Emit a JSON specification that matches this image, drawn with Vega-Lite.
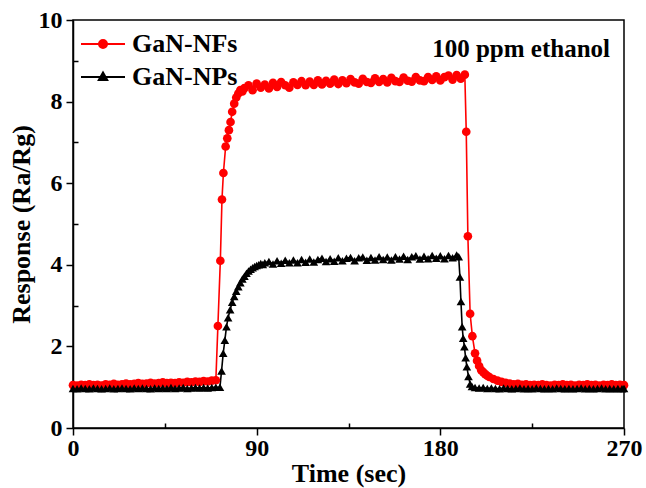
{
  "$schema": "https://vega.github.io/schema/vega-lite/v6.json",
  "width": 551,
  "height": 408,
  "autosize": "none",
  "padding": {"left": 73, "top": 20, "right": 22, "bottom": 60},
  "background": "white",
  "config": {
    "view": {"stroke": "black", "strokeWidth": 1.5},
    "font": "Liberation Serif",
    "axis": {
      "domainColor": "black", "domainWidth": 1.5, "tickColor": "black", "tickWidth": 1.5,
      "labelFont": "Liberation Serif", "labelFontWeight": "bold", "labelFontSize": 24, "labelColor": "black",
      "titleFont": "Liberation Serif", "titleFontWeight": "bold", "titleFontSize": 26, "titleColor": "black",
      "grid": false, "labelFlush": false
    }
  },
  "title": {
    "text": "100 ppm ethanol", "anchor": "end", "frame": "group", "orient": "top",
    "offset": -54, "baseline": "top", "dx": -14,
    "font": "Liberation Serif", "fontWeight": "bold", "fontSize": 25, "color": "black"
  },
  "data": {
    "values": [
      {"s":"GaN-NFs","t":0,"v":1.05},{"s":"GaN-NFs","t":2,"v":1.04},{"s":"GaN-NFs","t":4,"v":1.06},{"s":"GaN-NFs","t":6,"v":1.05},
      {"s":"GaN-NFs","t":8,"v":1.07},{"s":"GaN-NFs","t":10,"v":1.05},{"s":"GaN-NFs","t":12,"v":1.06},{"s":"GaN-NFs","t":14,"v":1.04},
      {"s":"GaN-NFs","t":16,"v":1.07},{"s":"GaN-NFs","t":18,"v":1.06},{"s":"GaN-NFs","t":20,"v":1.08},{"s":"GaN-NFs","t":22,"v":1.06},
      {"s":"GaN-NFs","t":24,"v":1.07},{"s":"GaN-NFs","t":26,"v":1.09},{"s":"GaN-NFs","t":28,"v":1.07},{"s":"GaN-NFs","t":30,"v":1.08},
      {"s":"GaN-NFs","t":32,"v":1.1},{"s":"GaN-NFs","t":34,"v":1.08},{"s":"GaN-NFs","t":36,"v":1.09},{"s":"GaN-NFs","t":38,"v":1.11},
      {"s":"GaN-NFs","t":40,"v":1.09},{"s":"GaN-NFs","t":42,"v":1.1},{"s":"GaN-NFs","t":44,"v":1.12},{"s":"GaN-NFs","t":46,"v":1.1},
      {"s":"GaN-NFs","t":48,"v":1.11},{"s":"GaN-NFs","t":50,"v":1.1},{"s":"GaN-NFs","t":52,"v":1.12},{"s":"GaN-NFs","t":54,"v":1.11},
      {"s":"GaN-NFs","t":56,"v":1.13},{"s":"GaN-NFs","t":58,"v":1.12},{"s":"GaN-NFs","t":60,"v":1.14},{"s":"GaN-NFs","t":62,"v":1.13},
      {"s":"GaN-NFs","t":64,"v":1.15},{"s":"GaN-NFs","t":66,"v":1.14},{"s":"GaN-NFs","t":68,"v":1.16},{"s":"GaN-NFs","t":70,"v":1.17},
      {"s":"GaN-NFs","t":71,"v":2.5},{"s":"GaN-NFs","t":72.2,"v":4.1},{"s":"GaN-NFs","t":73,"v":5.6},{"s":"GaN-NFs","t":73.7,"v":6.25},
      {"s":"GaN-NFs","t":74.8,"v":6.9},{"s":"GaN-NFs","t":75.6,"v":7.1},{"s":"GaN-NFs","t":76.4,"v":7.3},{"s":"GaN-NFs","t":77.2,"v":7.5},
      {"s":"GaN-NFs","t":78,"v":7.75},{"s":"GaN-NFs","t":79,"v":7.95},{"s":"GaN-NFs","t":80,"v":8.1},{"s":"GaN-NFs","t":81,"v":8.2},
      {"s":"GaN-NFs","t":82,"v":8.28},{"s":"GaN-NFs","t":83,"v":8.25},
      {"s":"GaN-NFs","t":84,"v":8.33},{"s":"GaN-NFs","t":86,"v":8.4},{"s":"GaN-NFs","t":88,"v":8.28},{"s":"GaN-NFs","t":90,"v":8.44},
      {"s":"GaN-NFs","t":92,"v":8.34},{"s":"GaN-NFs","t":94,"v":8.42},{"s":"GaN-NFs","t":96,"v":8.32},{"s":"GaN-NFs","t":98,"v":8.46},
      {"s":"GaN-NFs","t":100,"v":8.36},{"s":"GaN-NFs","t":102,"v":8.48},{"s":"GaN-NFs","t":104,"v":8.4},{"s":"GaN-NFs","t":106,"v":8.34},
      {"s":"GaN-NFs","t":108,"v":8.47},{"s":"GaN-NFs","t":110,"v":8.41},{"s":"GaN-NFs","t":112,"v":8.5},{"s":"GaN-NFs","t":114,"v":8.4},
      {"s":"GaN-NFs","t":116,"v":8.49},{"s":"GaN-NFs","t":118,"v":8.41},{"s":"GaN-NFs","t":120,"v":8.52},{"s":"GaN-NFs","t":122,"v":8.42},
      {"s":"GaN-NFs","t":124,"v":8.51},{"s":"GaN-NFs","t":126,"v":8.44},{"s":"GaN-NFs","t":128,"v":8.54},{"s":"GaN-NFs","t":130,"v":8.43},
      {"s":"GaN-NFs","t":132,"v":8.52},{"s":"GaN-NFs","t":134,"v":8.45},{"s":"GaN-NFs","t":136,"v":8.55},{"s":"GaN-NFs","t":138,"v":8.47},
      {"s":"GaN-NFs","t":140,"v":8.44},{"s":"GaN-NFs","t":142,"v":8.56},{"s":"GaN-NFs","t":144,"v":8.48},{"s":"GaN-NFs","t":146,"v":8.46},
      {"s":"GaN-NFs","t":148,"v":8.57},{"s":"GaN-NFs","t":150,"v":8.48},{"s":"GaN-NFs","t":152,"v":8.55},{"s":"GaN-NFs","t":154,"v":8.47},
      {"s":"GaN-NFs","t":156,"v":8.58},{"s":"GaN-NFs","t":158,"v":8.5},{"s":"GaN-NFs","t":160,"v":8.48},{"s":"GaN-NFs","t":162,"v":8.59},
      {"s":"GaN-NFs","t":164,"v":8.51},{"s":"GaN-NFs","t":166,"v":8.49},{"s":"GaN-NFs","t":168,"v":8.6},{"s":"GaN-NFs","t":170,"v":8.52},
      {"s":"GaN-NFs","t":172,"v":8.5},{"s":"GaN-NFs","t":174,"v":8.6},{"s":"GaN-NFs","t":176,"v":8.53},{"s":"GaN-NFs","t":178,"v":8.62},
      {"s":"GaN-NFs","t":180,"v":8.52},{"s":"GaN-NFs","t":182,"v":8.6},{"s":"GaN-NFs","t":184,"v":8.64},{"s":"GaN-NFs","t":186,"v":8.54},
      {"s":"GaN-NFs","t":188,"v":8.65},{"s":"GaN-NFs","t":190,"v":8.56},{"s":"GaN-NFs","t":192,"v":8.66},
      {"s":"GaN-NFs","t":192.7,"v":7.26},{"s":"GaN-NFs","t":193.5,"v":4.7},{"s":"GaN-NFs","t":194.6,"v":2.8},{"s":"GaN-NFs","t":195.7,"v":2.25},
      {"s":"GaN-NFs","t":197,"v":1.83},{"s":"GaN-NFs","t":198,"v":1.65},{"s":"GaN-NFs","t":199,"v":1.52},{"s":"GaN-NFs","t":200,"v":1.42},
      {"s":"GaN-NFs","t":201,"v":1.37},{"s":"GaN-NFs","t":202,"v":1.32},{"s":"GaN-NFs","t":203,"v":1.28},{"s":"GaN-NFs","t":204,"v":1.25},
      {"s":"GaN-NFs","t":206,"v":1.2},{"s":"GaN-NFs","t":208,"v":1.16},
      {"s":"GaN-NFs","t":210,"v":1.13},{"s":"GaN-NFs","t":212,"v":1.11},{"s":"GaN-NFs","t":214,"v":1.09},{"s":"GaN-NFs","t":216,"v":1.07},
      {"s":"GaN-NFs","t":218,"v":1.08},{"s":"GaN-NFs","t":220,"v":1.06},{"s":"GaN-NFs","t":222,"v":1.07},{"s":"GaN-NFs","t":224,"v":1.05},
      {"s":"GaN-NFs","t":226,"v":1.06},{"s":"GaN-NFs","t":228,"v":1.05},{"s":"GaN-NFs","t":230,"v":1.07},{"s":"GaN-NFs","t":232,"v":1.05},
      {"s":"GaN-NFs","t":234,"v":1.04},{"s":"GaN-NFs","t":236,"v":1.06},{"s":"GaN-NFs","t":238,"v":1.05},{"s":"GaN-NFs","t":240,"v":1.07},
      {"s":"GaN-NFs","t":242,"v":1.05},{"s":"GaN-NFs","t":244,"v":1.06},{"s":"GaN-NFs","t":246,"v":1.04},{"s":"GaN-NFs","t":248,"v":1.06},
      {"s":"GaN-NFs","t":250,"v":1.05},{"s":"GaN-NFs","t":252,"v":1.07},{"s":"GaN-NFs","t":254,"v":1.05},{"s":"GaN-NFs","t":256,"v":1.06},
      {"s":"GaN-NFs","t":258,"v":1.04},{"s":"GaN-NFs","t":260,"v":1.06},{"s":"GaN-NFs","t":262,"v":1.05},{"s":"GaN-NFs","t":264,"v":1.07},
      {"s":"GaN-NFs","t":266,"v":1.05},{"s":"GaN-NFs","t":268,"v":1.06},{"s":"GaN-NFs","t":270,"v":1.05},

      {"s":"GaN-NPs","t":0,"v":0.97},{"s":"GaN-NPs","t":2,"v":0.96},{"s":"GaN-NPs","t":4,"v":0.98},{"s":"GaN-NPs","t":6,"v":0.97},
      {"s":"GaN-NPs","t":8,"v":0.96},{"s":"GaN-NPs","t":10,"v":0.98},{"s":"GaN-NPs","t":12,"v":0.97},{"s":"GaN-NPs","t":14,"v":0.96},
      {"s":"GaN-NPs","t":16,"v":0.97},{"s":"GaN-NPs","t":18,"v":0.98},{"s":"GaN-NPs","t":20,"v":0.96},{"s":"GaN-NPs","t":22,"v":0.97},
      {"s":"GaN-NPs","t":24,"v":0.98},{"s":"GaN-NPs","t":26,"v":0.97},{"s":"GaN-NPs","t":28,"v":0.96},{"s":"GaN-NPs","t":30,"v":0.98},
      {"s":"GaN-NPs","t":32,"v":0.97},{"s":"GaN-NPs","t":34,"v":0.98},{"s":"GaN-NPs","t":36,"v":0.97},{"s":"GaN-NPs","t":38,"v":0.96},
      {"s":"GaN-NPs","t":40,"v":0.98},{"s":"GaN-NPs","t":42,"v":0.97},{"s":"GaN-NPs","t":44,"v":0.98},{"s":"GaN-NPs","t":46,"v":0.97},
      {"s":"GaN-NPs","t":48,"v":0.99},{"s":"GaN-NPs","t":50,"v":0.97},{"s":"GaN-NPs","t":52,"v":0.98},{"s":"GaN-NPs","t":54,"v":0.99},
      {"s":"GaN-NPs","t":56,"v":0.97},{"s":"GaN-NPs","t":58,"v":0.98},{"s":"GaN-NPs","t":60,"v":0.99},{"s":"GaN-NPs","t":62,"v":0.98},
      {"s":"GaN-NPs","t":64,"v":0.99},{"s":"GaN-NPs","t":66,"v":0.98},{"s":"GaN-NPs","t":68,"v":0.99},{"s":"GaN-NPs","t":70,"v":1.0},
      {"s":"GaN-NPs","t":72,"v":1.0},{"s":"GaN-NPs","t":72.8,"v":1.4},{"s":"GaN-NPs","t":73.6,"v":1.83},{"s":"GaN-NPs","t":74.4,"v":2.15},
      {"s":"GaN-NPs","t":75.2,"v":2.48},{"s":"GaN-NPs","t":76,"v":2.7},{"s":"GaN-NPs","t":77,"v":2.9},{"s":"GaN-NPs","t":78,"v":3.08},
      {"s":"GaN-NPs","t":79,"v":3.22},{"s":"GaN-NPs","t":80,"v":3.35},{"s":"GaN-NPs","t":81,"v":3.46},{"s":"GaN-NPs","t":82,"v":3.56},
      {"s":"GaN-NPs","t":83,"v":3.65},{"s":"GaN-NPs","t":84,"v":3.72},{"s":"GaN-NPs","t":85,"v":3.79},{"s":"GaN-NPs","t":86,"v":3.85},
      {"s":"GaN-NPs","t":87,"v":3.89},{"s":"GaN-NPs","t":88,"v":3.93},{"s":"GaN-NPs","t":89,"v":3.96},{"s":"GaN-NPs","t":90,"v":3.98},
      {"s":"GaN-NPs","t":91,"v":4.0},{"s":"GaN-NPs","t":92,"v":4.03},{"s":"GaN-NPs","t":93,"v":4.01},{"s":"GaN-NPs","t":94,"v":4.05},
      {"s":"GaN-NPs","t":96,"v":4.08},{"s":"GaN-NPs","t":98,"v":4.02},
      {"s":"GaN-NPs","t":100,"v":4.1},{"s":"GaN-NPs","t":102,"v":4.04},{"s":"GaN-NPs","t":104,"v":4.11},{"s":"GaN-NPs","t":106,"v":4.05},
      {"s":"GaN-NPs","t":108,"v":4.12},{"s":"GaN-NPs","t":110,"v":4.05},{"s":"GaN-NPs","t":112,"v":4.13},{"s":"GaN-NPs","t":114,"v":4.06},
      {"s":"GaN-NPs","t":116,"v":4.14},{"s":"GaN-NPs","t":118,"v":4.07},{"s":"GaN-NPs","t":120,"v":4.13},{"s":"GaN-NPs","t":122,"v":4.16},
      {"s":"GaN-NPs","t":124,"v":4.08},{"s":"GaN-NPs","t":126,"v":4.15},{"s":"GaN-NPs","t":128,"v":4.09},{"s":"GaN-NPs","t":130,"v":4.17},
      {"s":"GaN-NPs","t":132,"v":4.1},{"s":"GaN-NPs","t":134,"v":4.16},{"s":"GaN-NPs","t":136,"v":4.18},{"s":"GaN-NPs","t":138,"v":4.1},
      {"s":"GaN-NPs","t":140,"v":4.17},{"s":"GaN-NPs","t":142,"v":4.19},{"s":"GaN-NPs","t":144,"v":4.11},{"s":"GaN-NPs","t":146,"v":4.18},
      {"s":"GaN-NPs","t":148,"v":4.12},{"s":"GaN-NPs","t":150,"v":4.2},{"s":"GaN-NPs","t":152,"v":4.13},{"s":"GaN-NPs","t":154,"v":4.19},
      {"s":"GaN-NPs","t":156,"v":4.12},{"s":"GaN-NPs","t":158,"v":4.2},{"s":"GaN-NPs","t":160,"v":4.14},{"s":"GaN-NPs","t":162,"v":4.21},
      {"s":"GaN-NPs","t":164,"v":4.13},{"s":"GaN-NPs","t":166,"v":4.2},{"s":"GaN-NPs","t":168,"v":4.22},{"s":"GaN-NPs","t":170,"v":4.14},
      {"s":"GaN-NPs","t":172,"v":4.21},{"s":"GaN-NPs","t":174,"v":4.15},{"s":"GaN-NPs","t":176,"v":4.23},{"s":"GaN-NPs","t":178,"v":4.16},
      {"s":"GaN-NPs","t":180,"v":4.22},{"s":"GaN-NPs","t":182,"v":4.15},{"s":"GaN-NPs","t":184,"v":4.23},{"s":"GaN-NPs","t":186,"v":4.17},
      {"s":"GaN-NPs","t":188,"v":4.24},{"s":"GaN-NPs","t":189,"v":4.2},
      {"s":"GaN-NPs","t":189.6,"v":3.7},{"s":"GaN-NPs","t":190.1,"v":3.1},{"s":"GaN-NPs","t":190.7,"v":2.48},{"s":"GaN-NPs","t":191.2,"v":2.2},
      {"s":"GaN-NPs","t":191.8,"v":1.99},{"s":"GaN-NPs","t":192.4,"v":1.72},{"s":"GaN-NPs","t":193,"v":1.5},{"s":"GaN-NPs","t":193.8,"v":1.26},
      {"s":"GaN-NPs","t":194.6,"v":1.08},{"s":"GaN-NPs","t":195.5,"v":1.02},{"s":"GaN-NPs","t":197,"v":0.99},{"s":"GaN-NPs","t":199,"v":0.98},
      {"s":"GaN-NPs","t":201,"v":0.99},{"s":"GaN-NPs","t":203,"v":0.97},{"s":"GaN-NPs","t":205,"v":0.98},{"s":"GaN-NPs","t":207,"v":0.97},
      {"s":"GaN-NPs","t":209,"v":0.96},{"s":"GaN-NPs","t":211,"v":0.98},{"s":"GaN-NPs","t":213,"v":0.97},{"s":"GaN-NPs","t":215,"v":0.96},
      {"s":"GaN-NPs","t":217,"v":0.97},{"s":"GaN-NPs","t":219,"v":0.98},{"s":"GaN-NPs","t":221,"v":0.96},{"s":"GaN-NPs","t":223,"v":0.97},
      {"s":"GaN-NPs","t":225,"v":0.96},{"s":"GaN-NPs","t":227,"v":0.98},{"s":"GaN-NPs","t":229,"v":0.97},{"s":"GaN-NPs","t":231,"v":0.96},
      {"s":"GaN-NPs","t":233,"v":0.97},{"s":"GaN-NPs","t":235,"v":0.96},{"s":"GaN-NPs","t":237,"v":0.98},{"s":"GaN-NPs","t":239,"v":0.97},
      {"s":"GaN-NPs","t":241,"v":0.96},{"s":"GaN-NPs","t":243,"v":0.97},{"s":"GaN-NPs","t":245,"v":0.96},{"s":"GaN-NPs","t":247,"v":0.97},
      {"s":"GaN-NPs","t":249,"v":0.98},{"s":"GaN-NPs","t":251,"v":0.96},{"s":"GaN-NPs","t":253,"v":0.97},{"s":"GaN-NPs","t":255,"v":0.96},
      {"s":"GaN-NPs","t":257,"v":0.97},{"s":"GaN-NPs","t":259,"v":0.98},{"s":"GaN-NPs","t":261,"v":0.96},{"s":"GaN-NPs","t":263,"v":0.97},
      {"s":"GaN-NPs","t":265,"v":0.96},{"s":"GaN-NPs","t":267,"v":0.97},{"s":"GaN-NPs","t":269,"v":0.96},{"s":"GaN-NPs","t":270,"v":0.97}
    ]
  },
  "resolve": {"axis": {"x": "independent", "y": "independent"}},
  "layer": [
    {
      "mark": {"type": "line", "strokeWidth": 1.6},
      "encoding": {
        "x": {"field": "t", "type": "quantitative", "scale": {"domain": [0, 270], "nice": false},
              "axis": {"values": [0, 90, 180, 270], "title": "Time (sec)", "tickSize": 7, "labelPadding": 1, "titlePadding": 0, "orient": "bottom"}},
        "y": {"field": "v", "type": "quantitative", "scale": {"domain": [0, 10], "nice": false},
              "axis": {"values": [0, 2, 4, 6, 8, 10], "title": "Response (Ra/Rg)", "tickSize": 7, "labelPadding": 4, "titlePadding": 4, "orient": "left"}},
        "color": {
          "field": "s", "type": "nominal",
          "scale": {"domain": ["GaN-NFs", "GaN-NPs"], "range": ["#ff0000", "#000000"]},
          "legend": {
            "orient": "none", "legendX": 17, "legendY": 11, "title": null, "padding": 0,
            "symbolSize": 400, "symbolStrokeWidth": 2,
            "labelFont": "Liberation Serif", "labelFontWeight": "bold", "labelFontSize": 26, "labelColor": "black",
            "labelOffset": 16, "rowPadding": 7,
            "encode": {
              "symbols": {
                "update": {
                  "shape": {"signal": "datum.value === 'GaN-NFs' ? 'M-2.2,0H2.2M0.4,0A0.4,0.4 0 1,1 -0.4,0A0.4,0.4 0 1,1 0.4,0Z' : 'M-2.2,0H2.2M0,-0.44L0.42,0.3L-0.42,0.3Z'"},
                  "fill": {"signal": "datum.value === 'GaN-NFs' ? '#ff0000' : '#000000'"},
                  "stroke": {"signal": "datum.value === 'GaN-NFs' ? '#ff0000' : '#000000'"},
                  "strokeWidth": {"value": 2},
                  "opacity": {"value": 1}
                }
              }
            }
          }
        }
      }
    },
    {
      "transform": [{"filter": "datum.s === 'GaN-NFs'"}],
      "mark": {"type": "point", "filled": true, "opacity": 1, "size": 75, "shape": "circle", "color": "#ff0000"},
      "encoding": {
        "x": {"field": "t", "type": "quantitative", "axis": null},
        "y": {"field": "v", "type": "quantitative", "axis": null}
      }
    },
    {
      "transform": [{"filter": "datum.s === 'GaN-NPs'"}],
      "mark": {"type": "point", "filled": true, "opacity": 1, "size": 75, "shape": "triangle-up", "color": "#000000"},
      "encoding": {
        "x": {"field": "t", "type": "quantitative", "axis": null},
        "y": {"field": "v", "type": "quantitative", "axis": null}
      }
    },
    {
      "mark": {"type": "point", "opacity": 0},
      "encoding": {
        "x": {"field": "t", "type": "quantitative",
              "axis": {"values": [45, 135, 225], "labels": false, "title": null, "domain": false, "tickSize": -5, "orient": "bottom"}},
        "y": {"field": "v", "type": "quantitative",
              "axis": {"values": [1, 3, 5, 7, 9], "labels": false, "title": null, "domain": false, "tickSize": -5, "orient": "left"}}
      }
    }
  ]
}
